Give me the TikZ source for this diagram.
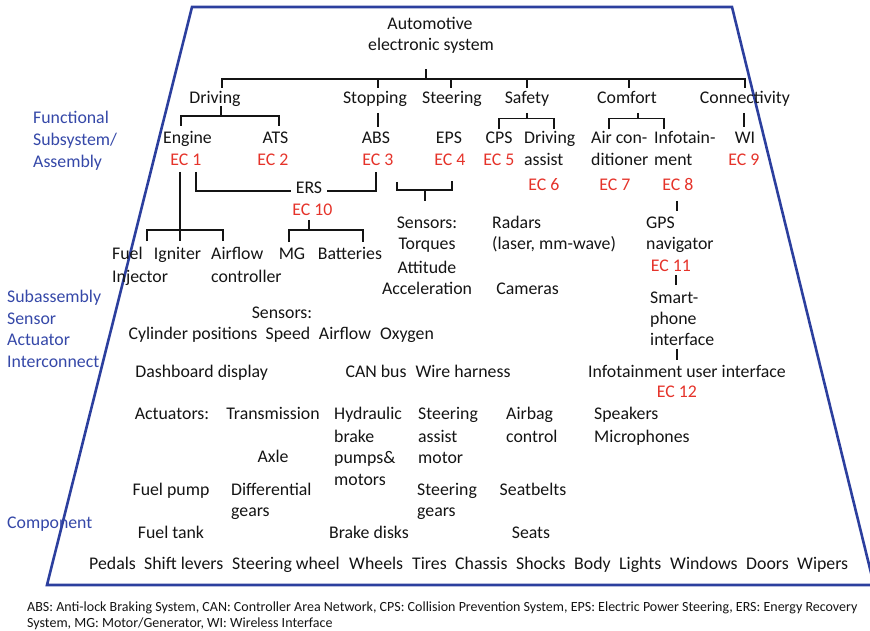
\documentclass[tikz,border=0pt]{standalone}
\usepackage{fontspec}
\setmainfont{Carlito}
\definecolor{ink}{HTML}{141414}
\definecolor{ecred}{HTML}{E5332A}
\definecolor{lvlblue}{HTML}{3548A8}
\definecolor{framebl}{HTML}{2C3F9E}
\begin{document}
\begin{tikzpicture}[x=1pt,y=-1pt,
  txt/.style={anchor=base, inner sep=0pt, font=\fontsize{17.8}{22}\selectfont, text=ink},
  txtl/.style={txt, anchor=base west},
  ec/.style={txt, text=ecred},
  lvl/.style={txtl, text=lvlblue},
  note/.style={anchor=base west, inner sep=0pt, font=\fontsize{14}{18}\selectfont, text=ink},
  link/.style={draw=ink, line width=1.7pt},
  pyramid/.style={draw=framebl, line width=2.6pt, line join=miter}
]
\clip (0,0) rectangle (870,631);

% abstraction-level frame
\draw[pyramid] (192,7) -- (732,7) -- (874,585) -- (47,585) -- cycle;

% level captions
\node[lvl] (lvF1) at (33,124) {Functional};
\node[lvl] (lvF2) at (33,146) {Subsystem/};
\node[lvl] (lvF3) at (33,168) {Assembly};
\node[lvl] (lvS1) at (7,302) {Subassembly};
\node[lvl] (lvS2) at (7,324) {Sensor};
\node[lvl] (lvS3) at (7,345) {Actuator};
\node[lvl] (lvS4) at (7,367) {Interconnect};
\node[lvl] (lvC) at (7,528) {Component};

% root
\node[txt] (rootA) at (430,30) {Automotive};
\node[txt] (rootB) at (431,51) {electronic system};

% functions
\node[txt] (driving) at (215,104) {Driving};
\node[txt] (stopping) at (375,104) {Stopping};
\node[txt] (steering) at (452,104) {Steering};
\node[txt] (safety) at (527,104) {Safety};
\node[txt] (comfort) at (627,104) {Comfort};
\node[txt] (connect) at (745,104) {Connectivity};

% subsystems
\node[txt] (engine) at (187.5,144) {Engine};
\node[ec]  (ec1) at (186,166) {EC 1};
\node[txt] (ats) at (275.5,144) {ATS};
\node[ec]  (ec2) at (273,166) {EC 2};
\node[txt] (abs) at (376,144) {ABS};
\node[ec]  (ec3) at (378,166) {EC 3};
\node[txt] (eps) at (449,144) {EPS};
\node[ec]  (ec4) at (450,166) {EC 4};
\node[txt] (cps) at (499,144) {CPS};
\node[ec]  (ec5) at (499,166) {EC 5};
\node[txtl] (dasA) at (524,144) {Driving};
\node[txtl] (dasB) at (524,166) {assist};
\node[ec]  (ec6) at (544,191) {EC 6};
\node[txtl] (acA) at (591,144) {Air con-};
\node[txtl] (acB) at (591,166) {ditioner};
\node[ec]  (ec7) at (615,191) {EC 7};
\node[txtl] (infA) at (654,144) {Infotain-};
\node[txtl] (infB) at (654,166) {ment};
\node[ec]  (ec8) at (678,191) {EC 8};
\node[txt] (wi) at (745,144) {WI};
\node[ec]  (ec9) at (744,166) {EC 9};

\node[txt] (ers) at (309,194) {ERS};
\node[ec]  (ec10) at (312.5,216) {EC 10};

% subassemblies
\node[txtl] (fuelA) at (112,259) {Fuel};
\node[txtl] (fuelB) at (112,282) {Injector};
\node[txt]  (igniter) at (177.5,259) {Igniter};
\node[txtl] (afcA) at (211,259) {Airflow};
\node[txtl] (afcB) at (211,282) {controller};
\node[txt]  (mg) at (292,259) {MG};
\node[txt]  (batt) at (350,259) {Batteries};

\node[txt] (ssA) at (427,229) {Sensors:};
\node[txt] (ssB) at (427,250) {Torques};
\node[txt] (ssC) at (427,273) {Attitude};
\node[txt] (ssD) at (427,294) {Acceleration};

\node[txtl] (radA) at (492,229) {Radars};
\node[txtl] (radB) at (492,250) {(laser, mm-wave)};
\node[txt]  (cams) at (527.5,294) {Cameras};

\node[txtl] (gpsA) at (646,229) {GPS};
\node[txtl] (gpsB) at (646,250) {navigator};
\node[ec]   (ec11) at (671,271) {EC 11};
\node[txtl] (spA) at (650,303) {Smart-};
\node[txtl] (spB) at (650,324) {phone};
\node[txtl] (spC) at (650,345) {interface};
\node[txt]  (iui) at (687,377) {Infotainment user interface};
\node[ec]   (ec12) at (677,397) {EC 12};

\node[txt] (esens) at (282,318) {Sensors:};
\node[txt] (cyl) at (193,339) {Cylinder positions};
\node[txt] (speed) at (288,339) {Speed};
\node[txt] (airf) at (345,339) {Airflow};
\node[txt] (oxy) at (407,339) {Oxygen};

\node[txt] (dash) at (201.7,377) {Dashboard display};
\node[txt] (can) at (376,377) {CAN bus};
\node[txt] (wire) at (463,377) {Wire harness};

% actuators and components
\node[txt] (act) at (172,419) {Actuators:};
\node[txt] (trans) at (273,419) {Transmission};
\node[txtl] (hydA) at (334,419) {Hydraulic};
\node[txtl] (hydB) at (334,442) {brake};
\node[txtl] (hydC) at (334,463) {pumps\&};
\node[txtl] (hydD) at (334,485) {motors};
\node[txtl] (samA) at (418,419) {Steering};
\node[txtl] (samB) at (418,442) {assist};
\node[txtl] (samC) at (418,463) {motor};
\node[txtl] (abA) at (506,419) {Airbag};
\node[txtl] (abB) at (506,442) {control};
\node[txtl] (spkA) at (594,419) {Speakers};
\node[txtl] (spkB) at (594,442) {Microphones};
\node[txt] (axle) at (273,462) {Axle};
\node[txt] (fpump) at (171,495) {Fuel pump};
\node[txtl] (difA) at (231,495) {Differential};
\node[txtl] (difB) at (231,516) {gears};
\node[txtl] (sgA) at (417,495) {Steering};
\node[txtl] (sgB) at (417,516) {gears};
\node[txt] (belts) at (533,495) {Seatbelts};
\node[txt] (ftank) at (171,538) {Fuel tank};
\node[txt] (bdisk) at (369,538) {Brake disks};
\node[txt] (seats) at (531,538) {Seats};

\foreach \w/\x [count=\i] in {Pedals/89, Shift levers/144, Steering wheel/232,
    Wheels/349, Tires/412, Chassis/455, Shocks/516, Body/574, Lights/619,
    Windows/670, Doors/746, Wipers/797}
  \node[txtl] (comp\i) at (\x,569) {\w};

% abbreviations
\node[note] (noteA) at (27,611.5) {ABS: Anti-lock Braking System, CAN: Controller Area Network, CPS: Collision Prevention System, EPS: Electric Power Steering, ERS: Energy Recovery};
\node[note] (noteB) at (27,627.5) {System, MG: Motor/Generator, WI: Wireless Interface};

% ---- tree connectors ----
\coordinate (trunk) at (426,79);
\coordinate (bDrv) at (222,79);
\coordinate (bStp) at (378,79);
\coordinate (bSte) at (451,79);
\coordinate (bSaf) at (527,79);
\coordinate (bCom) at (629,79);
\coordinate (bCon) at (745,79);
\draw[link] (trunk) -- ++(0,-10);
\draw[link] (bDrv) ++(0,9) -- (bDrv) -- (bCon) -- ++(0,9);
\foreach \c in {bStp,bSte,bSaf,bCom} \draw[link] (\c) -- ++(0,9);

% Driving -> Engine, ATS
\coordinate (dJ) at (221,116);
\coordinate (dL) at (181,116);
\coordinate (dR) at (279,116);
\draw[link] (dJ) -- ++(0,-10);
\draw[link] (dL) ++(0,10) -- (dL) -- (dR) -- ++(0,10);

% Stopping -> ABS, Connectivity -> WI
\coordinate (absT) at (378,113);
\draw[link] (absT) -- ++(0,14);
\coordinate (wiT) at (744,113);
\draw[link] (wiT) -- ++(0,14);

% Safety -> CPS, Driving assist
\coordinate (sJ) at (527,113);
\coordinate (sL) at (499,118.5);
\coordinate (sR) at (554,118.5);
\draw[link] (sJ) -- ++(0,5.5);
\draw[link] (sL) ++(0,11) -- (sL) -- (sR) -- ++(0,11);

% Comfort -> Air conditioner, Infotainment
\coordinate (cJ) at (638,113);
\coordinate (cL) at (609,118.5);
\coordinate (cR) at (664,118.5);
\draw[link] (cJ) -- ++(0,5.5);
\draw[link] (cL) ++(0,11) -- (cL) -- (cR) -- ++(0,11);

% EC 1 and EC 3 -> ERS
\coordinate (ersL) at (196,191);
\coordinate (ersR) at (376,191);
\draw[link] (ersL) ++(0,-19) -- (ersL) -- ([xshift=-5pt]ers.west |- ersL);
\draw[link] ([xshift=5pt]ers.east |- ersR) -- (ersR) -- ++(0,-19);

% EC 3 / EC 4 -> EPS sensors
\coordinate (epL) at (397,190);
\coordinate (epR) at (452,190);
\coordinate (epJ) at (425,190);
\draw[link] (epL) ++(0,-8) -- (epL) -- (epR) -- ++(0,-9);
\draw[link] (epJ) -- ++(0,11);

% Engine -> fuel injector, igniter, airflow controller
\coordinate (eT) at (180,172);
\coordinate (eJ) at (180,230);
\coordinate (eL) at (147,230);
\coordinate (eR) at (223,230);
\draw[link] (eT) -- (eJ) -- ++(0,11);
\draw[link] (eL) ++(0,11) -- (eL) -- (eR) -- ++(0,11);

% EC 10 -> MG, Batteries
\coordinate (rJ) at (309,220);
\coordinate (rL) at (289,230);
\coordinate (rR) at (363,230);
\draw[link] (rJ) -- ++(0,10);
\draw[link] (rL) ++(0,12) -- (rL) -- (rR) -- ++(0,12);

% infotainment chain
\coordinate (i1) at (677,201);
\coordinate (i2) at (676,275);
\coordinate (i3) at (677,349);
\draw[link] (i1) -- ++(0,10);
\draw[link] (i2) -- ++(0,10);
\draw[link] (i3) -- ++(0,11);
\end{tikzpicture}
\end{document}
